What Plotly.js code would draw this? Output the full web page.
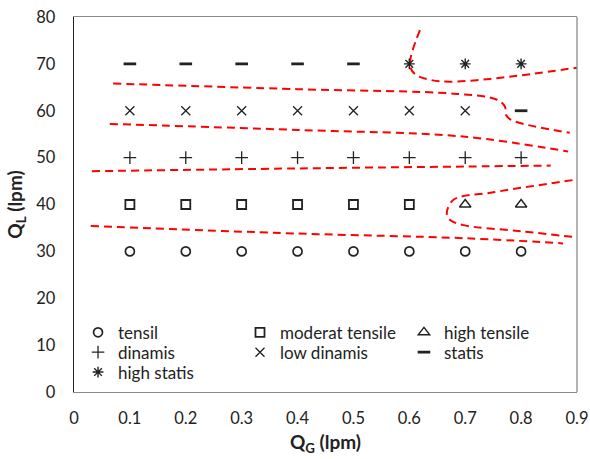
<!DOCTYPE html>
<html>
<head>
<meta charset="utf-8">
<script src="https://cdn.plot.ly/plotly-3.0.1.min.js"></script>
<style>html,body{margin:0;padding:0;background:#fff}#chart{width:590px;height:459px}</style>
</head>
<body>
<div id="chart"></div>
<script>
// Regime observations (QG lpm, QL lpm)
const tensilX = [0.1, 0.2, 0.3, 0.4, 0.5, 0.6, 0.7, 0.8];
const tensilY = [30, 30, 30, 30, 30, 30, 30, 30];
const moderatX = [0.1, 0.2, 0.3, 0.4, 0.5, 0.6];
const moderatY = [40, 40, 40, 40, 40, 40];
const highTensileX = [0.7, 0.8];
const highTensileY = [40, 40];
const dinamisX = [0.1, 0.2, 0.3, 0.4, 0.5, 0.6, 0.7, 0.8];
const dinamisY = [50, 50, 50, 50, 50, 50, 50, 50];
const lowDinamisX = [0.1, 0.2, 0.3, 0.4, 0.5, 0.6, 0.7];
const lowDinamisY = [60, 60, 60, 60, 60, 60, 60];
const statisX = [0.1, 0.2, 0.3, 0.4, 0.5, 0.8];
const statisY = [70, 70, 70, 70, 70, 60];
const highStatisX = [0.6, 0.7, 0.8];
const highStatisY = [70, 70, 70];

// Regime boundaries (red dashed)
const b1X = [0.030, 0.40, 0.70, 0.875];
const b1Y = [35.4, 33.8, 32.8, 31.7];
const b2X = [0.892, 0.75, 0.679, 0.667, 0.673, 0.697, 0.80, 0.899];
const b2Y = [45.2, 42.6, 41.0, 38.1, 36.7, 35.6, 34.3, 33.0];
const b3X = [0.032, 0.40, 0.70, 0.853];
const b3Y = [47.1, 47.7, 48.1, 48.3];
const b4X = [0.064, 0.40, 0.696, 0.884];
const b4Y = [57.2, 55.9, 54.5, 51.3];
const b5X = [0.070, 0.40, 0.685, 0.756, 0.771, 0.773, 0.783, 0.887];
const b5Y = [65.8, 64.6, 63.6, 62.4, 60.9, 59.1, 58.0, 55.3];
const b6X = [0.619, 0.601, 0.610, 0.637, 0.673, 0.744, 0.816, 0.90];
const b6Y = [77.2, 69.8, 67.8, 66.6, 66.2, 66.8, 67.8, 69.2];

const ink = '#222';
const FONT = 'Lato, "Liberation Sans", sans-serif';

function pts(x, y, name, legend, symbol, size, lw) {
  return {
    x: x, y: y, name: name, legend: legend, type: 'scatter', mode: 'markers',
    marker: {symbol: symbol, size: size, color: ink, line: {color: ink, width: lw}}
  };
}
function bnd(x, y) {
  return {x: x, y: y, type: 'scatter', mode: 'lines', showlegend: false,
          line: {color: '#ff0000', width: 2, dash: '8px,5px', shape: 'spline', smoothing: 1}};
}

const data = [
  bnd(b1X, b1Y), bnd(b2X, b2Y), bnd(b3X, b3Y), bnd(b4X, b4Y), bnd(b5X, b5Y), bnd(b6X, b6Y),
  pts(tensilX, tensilY, 'tensil', 'legend', 'circle-open', 9, 1.7),
  pts(moderatX, moderatY, 'moderat tensile', 'legend2', 'square-open', 9, 1.8),
  pts(highTensileX, highTensileY, 'high tensile', 'legend3', 'triangle-up-open', 10, 1.4),
  pts(dinamisX, dinamisY, 'dinamis', 'legend4', 'cross-thin-open', 9, 1.3),
  pts(lowDinamisX, lowDinamisY, 'low dinamis', 'legend5', 'x-thin-open', 9, 1.3),
  pts(statisX, statisY, 'statis', 'legend6', 'line-ew-open', 9, 2.8),
  pts(highStatisX, highStatisY, 'high statis', 'legend7', 'asterisk-open', 9, 1.4)
];

function leg(x, y) {
  return {bgcolor: 'rgba(0,0,0,0)', borderwidth: 0, font: {family: FONT, size: 17, color: '#222'},
          yanchor: 'middle', xanchor: 'left', x: x, y: y, itemclick: false};
}
const c1 = 0.008, c2 = 0.330, c3 = 0.656;
const r1 = 0.158, r2 = 0.105, r3 = 0.052;

const layout = {
  width: 590, height: 459,
  margin: {l: 74, r: 13, t: 17, b: 67},
  paper_bgcolor: '#fff', plot_bgcolor: '#fff',
  font: {family: FONT, size: 16, color: '#222'},
  xaxis: {
    range: [0, 0.9], dtick: 0.1, tick0: 0, showgrid: false, zeroline: false,
    showline: true, linecolor: '#8a8a8a', linewidth: 1.3, mirror: true, ticks: '',
    ticklabelstandoff: 11, tickfont: {family: FONT, size: 16.5, color: '#222'},
    title: {text: '<b>Q<sub>G</sub> (lpm)</b>', font: {family: FONT, size: 19, color: '#222'}, standoff: 8}
  },
  yaxis: {
    range: [0, 80], dtick: 10, showgrid: false, zeroline: false,
    showline: true, linecolor: '#222', linewidth: 1.3, ticks: '',
    ticklabelstandoff: 14, tickfont: {family: FONT, size: 16.5, color: '#222'},
    title: {text: '<b>Q<sub>L</sub> (lpm)</b>', font: {family: FONT, size: 19, color: '#222'}, standoff: 8}
  },
  shapes: [{type: 'line', xref: 'paper', yref: 'paper', x0: 1, x1: 1, y0: 0, y1: 1,
            line: {color: '#8a8a8a', width: 1.3}}],
  legend: leg(c1, r1), legend2: leg(c2, r1), legend3: leg(c3, r1),
  legend4: leg(c1, r2), legend5: leg(c2, r2), legend6: leg(c3, r2),
  legend7: leg(c1, r3),
  showlegend: true
};

Plotly.newPlot('chart', data, layout, {displayModeBar: false, staticPlot: true});
</script>
</body>
</html>
